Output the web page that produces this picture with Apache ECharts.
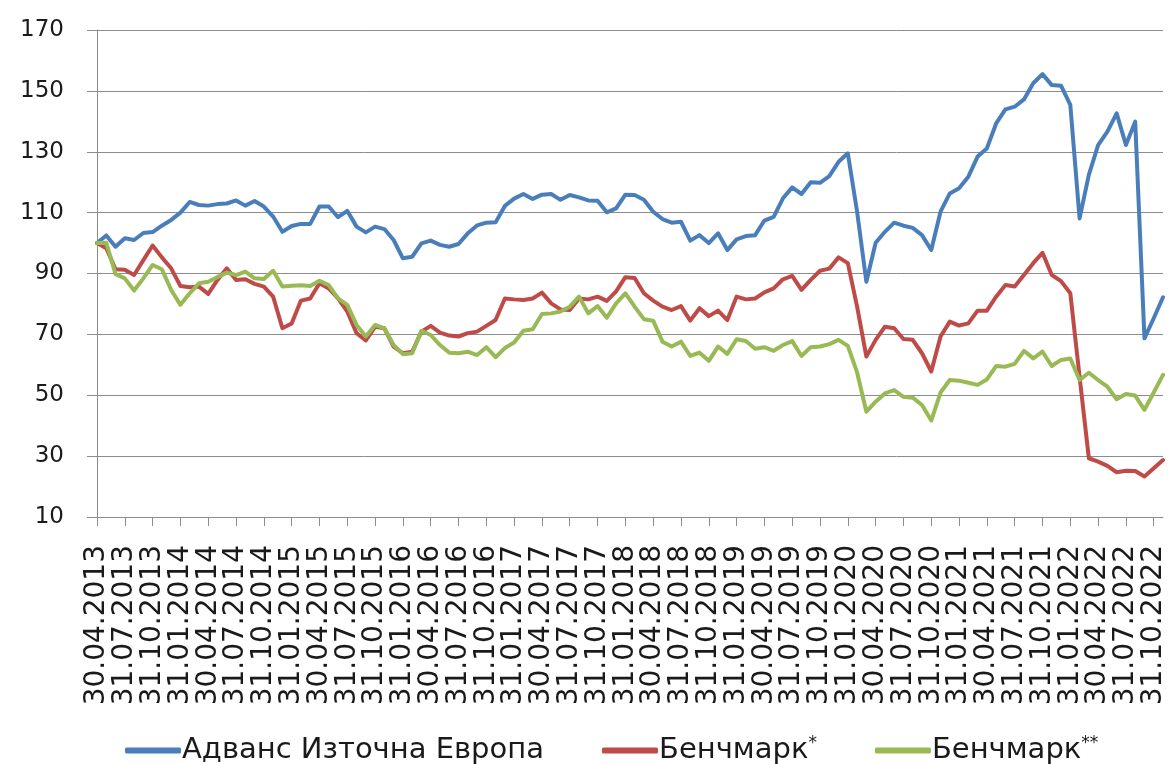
<!DOCTYPE html>
<html>
<head>
<meta charset="utf-8">
<script src="https://cdn.jsdelivr.net/npm/echarts@6/dist/echarts.min.js"></script>
<style>
  html, body { margin: 0; padding: 0; background: #fff; }
  #chart { width: 1172px; height: 764px; }
</style>
</head>
<body>
<div id="chart"></div>
<script>
// месечни дати: 30.04.2013 ... 30.11.2022
function monthEnds(y0, m0, count) {
  var out = [];
  for (var k = 0; k < count; k++) {
    var y = y0 + Math.floor((m0 - 1 + k) / 12);
    var m = ((m0 - 1 + k) % 12) + 1;
    var d = new Date(y, m, 0).getDate();
    out.push((d < 10 ? "0" + d : d) + "." + (m < 10 ? "0" + m : m) + "." + y);
  }
  return out;
}
var categories = monthEnds(2013, 4, 116);

var yTicks = [10, 30, 50, 70, 90, 110, 130, 150, 170];

var advance = [
  100, 102.5, 98.8, 101.6, 101, 103.3, 103.6, 105.7, 107.6, 110,
  113.5, 112.5, 112.3, 112.8, 113, 114, 112.3, 113.8, 112, 108.7,
  103.7, 105.6, 106.3, 106.3, 112, 112, 108.5, 110.6, 105.4, 103.5,
  105.4, 104.6, 101, 95, 95.5, 99.9, 100.8, 99.4, 98.8, 99.7,
  103.2, 105.8, 106.7, 106.8, 112.2, 114.6, 116.1, 114.5, 115.9, 116.1,
  114.2, 115.8, 115, 114, 113.9, 110.1, 111.4, 115.9, 115.8, 114.2,
  110.3, 107.9, 106.7, 107, 100.8, 102.6, 100, 103.2, 97.7, 101.2,
  102.3, 102.6, 107.4, 108.6, 114.7, 118.3, 116.1, 120, 119.8, 122,
  126.7, 129.5, 110.3, 87.3, 100.1, 103.7, 106.7, 105.7, 105, 102.6,
  97.7, 110.3, 116.3, 118, 121.8, 128.4, 131.1, 139.3, 143.9, 144.8,
  147.2, 152.5, 155.5, 151.9, 151.7, 145.4, 108.1, 122.4, 132.2, 136.6,
  142.6, 132.2, 139.9, 68.7, 75.3, 82.2
];

var bench1 = [
  100, 98.3, 91.4, 91.2, 89.5, 94.4, 99.2, 95.3, 91.7, 85.9,
  85.5, 85.7, 83.3, 87.9, 91.7, 87.9, 88.1, 86.6, 85.7, 82.4,
  72, 73.6, 81.1, 81.8, 86.8, 85.1, 81.8, 77.5, 70.4, 68,
  72.5, 72, 66, 63.8, 64.3, 70.9, 72.8, 70.6, 69.6, 69.3,
  70.4, 70.9, 72.8, 74.7, 81.8, 81.5, 81.3, 81.8, 83.7, 80.2,
  78.2, 78, 81.8, 81.5, 82.4, 81, 84.1, 88.8, 88.5, 83.5,
  81.1, 79.1, 78, 79.3, 74.5, 78.6, 76, 77.8, 74.7, 82.4,
  81.5, 81.8, 83.8, 85.1, 88.1, 89.2, 84.6, 87.9, 90.9, 91.6,
  95.3, 93.4, 79.1, 62.7, 68.2, 72.5, 72, 68.5, 68.2, 63.8,
  57.8, 69.3, 74.2, 72.9, 73.6, 77.8, 77.8, 82.4, 86.2, 85.7,
  89.5, 93.4, 96.8, 89.5, 87.5, 83.5, 56.1, 29.3, 28.2, 26.8,
  24.7, 25.2, 25.1, 23.3, 26, 28.7
];

var bench2 = [
  100, 100.1, 89.8, 88.4, 84.4, 88.4, 92.8, 91.4, 84.6, 79.7,
  83.5, 86.8, 87.3, 88.8, 90.3, 89.5, 90.6, 88.4, 88.2, 90.9,
  85.7, 86, 86.1, 85.9, 87.6, 86.2, 81.8, 79.7, 73.1, 69.3,
  73.1, 72, 66.5, 63.5, 63.8, 71.2, 69.8, 66.5, 64, 63.8,
  64.3, 63.2, 65.8, 62.5, 65.5, 67.3, 71.2, 71.7, 76.7, 76.9,
  77.5, 79.1, 82.4, 76.9, 79.3, 75.5, 80.2, 83.5, 79.1, 75,
  74.5, 67.6, 66, 67.6, 62.9, 64, 61.3, 66, 63.6, 68.4,
  67.8, 65.3, 65.8, 64.6, 66.5, 67.8, 62.9, 65.8, 66, 66.8,
  68.2, 66.2, 57.5, 44.6, 47.9, 50.6, 51.7, 49.5, 49.2, 46.8,
  41.7, 50.9, 55, 54.8, 54.1, 53.4, 55.2, 59.6, 59.4, 60.3,
  64.6, 62.1, 64.3, 59.6, 61.6, 62.1, 55, 57.4, 55, 52.8,
  48.7, 50.4, 49.9, 45.2, 50.9, 56.7
];

var seriesNames = ["Адванс Източна Европа", "Бенчмарк*", "Бенчмарк**"];
var seriesColors = ["#4a7ebb", "#be4b48", "#98b954"];

var chart = echarts.init(document.getElementById("chart"));

function line(name, data, color) {
  return {
    name: name,
    type: "line",
    data: data,
    symbol: "none",
    smooth: false,
    itemStyle: { color: color },
    lineStyle: { color: color, width: 4, cap: "round", join: "round" }
  };
}

// етикет на всеки 3 месеца
function everyThird(idx) {
  return idx % 3 === 0;
}

var option = {
  animation: false,
  backgroundColor: "#fff",
  textStyle: { fontFamily: "DejaVu Sans" },
  grid: { left: 97, right: 9, top: 30, bottom: 247 },
  legend: {
    left: 120,
    bottom: -6,
    itemWidth: 56,
    itemHeight: 6,
    itemGap: 58,
    icon: "roundRect",
    data: seriesNames,
    formatter: function (name) {
      var star = name.indexOf("*");
      if (star < 0) return name;
      return name.slice(0, star) + "{s|" + name.slice(star) + "}";
    },
    textStyle: {
      color: "#1a1a1a",
      fontSize: 29,
      fontFamily: "DejaVu Sans",
      padding: [0, 0, 0, -4],
      rich: {
        s: { fontSize: 17, fontFamily: "DejaVu Sans", color: "#1a1a1a", padding: [0, 0, 14, 0] }
      }
    }
  },
  xAxis: {
    type: "category",
    data: categories,
    boundaryGap: false,
    axisLine: { lineStyle: { color: "#8c8c8c", width: 1 } },
    axisTick: { show: true, interval: everyThird, length: 9, lineStyle: { color: "#8c8c8c" } },
    axisLabel: {
      interval: everyThird,
      showMinLabel: true,
      showMaxLabel: true,
      hideOverlap: false,
      rotate: 90,
      margin: 28,
      lineHeight: 20,
      color: "#1a1a1a",
      fontSize: 28,
      fontFamily: "DejaVu Sans"
    },
    splitLine: { show: false }
  },
  yAxis: {
    type: "value",
    min: yTicks[0],
    max: yTicks[yTicks.length - 1],
    interval: 20,
    axisLine: { show: true, lineStyle: { color: "#8c8c8c", width: 1 } },
    axisTick: { show: true, length: 10, lineStyle: { color: "#8c8c8c" } },
    axisLabel: { margin: 33, color: "#1a1a1a", fontSize: 23, fontFamily: "DejaVu Sans" },
    splitLine: { lineStyle: { color: "#8c8c8c", width: 1 } }
  },
  series: [
    line(seriesNames[0], advance, seriesColors[0]),
    line(seriesNames[1], bench1, seriesColors[1]),
    line(seriesNames[2], bench2, seriesColors[2])
  ]
};

chart.setOption(option);
</script>
</body>
</html>
